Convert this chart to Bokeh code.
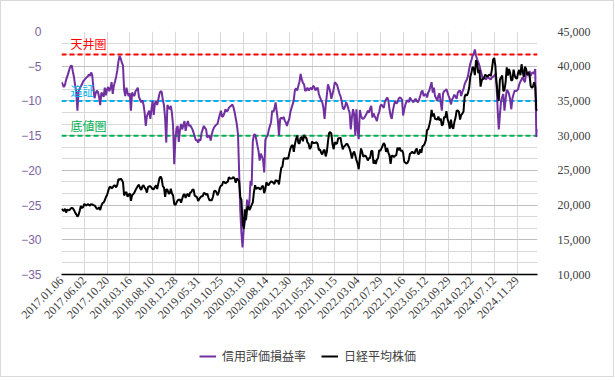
from bokeh.plotting import figure
from bokeh.layouts import column
from bokeh.models import (Range1d, LinearAxis, FixedTicker, NumeralTickFormatter,
                          Span, Label, Legend, LegendItem)
from bokeh.embed import file_html
from bokeh.resources import INLINE

# ---- data -------------------------------------------------------------
tick_labels = ["2017.01.06", "2017.06.02", "2017.10.20", "2018.03.16", "2018.08.10",
               "2018.12.28", "2019.05.31", "2019.10.25", "2020.03.19", "2020.08.14",
               "2020.12.30", "2021.05.28", "2021.10.15", "2022.03.04", "2022.07.29",
               "2022.12.16", "2023.05.12", "2023.09.29", "2024.02.22", "2024.07.12",
               "2024.11.29"]
label_step = 20

margin_ratio = [
    -7.3, -7.6, -8.0, -7.7, -7.0, -6.5, -6.0, -5.4, -5.0, -4.9, -5.8, -6.6, -7.8, -8.8, -11.4, -8.6, -8.2, -7.9, -7.6, -7.2,
    -7.0, -6.8, -6.6, -6.5, -6.2, -6.4, -5.9, -6.3, -8.1, -9.6, -8.9, -8.5, -8.7, -9.4, -10.6, -8.8, -9.0, -9.4, -8.1, -9.2,
    -8.3, -8.0, -8.6, -8.2, -7.3, -9.0, -7.8, -7.2, -6.5, -5.6, -4.3, -3.5, -3.9, -4.5, -4.9, -8.4, -9.3, -8.1, -8.8, -9.3,
    -8.9, -11.4, -8.8, -9.1, -9.3, -8.6, -8.4, -8.1, -9.4, -9.8, -10.2, -9.9, -10.5, -11.7, -13.6, -12.2, -11.8, -11.4, -12.6, -11.2, -10.0,
    -12.0, -10.4, -10.0, -10.6, -9.8, -9.0, -8.6, -8.7, -9.9, -10.6, -12.5, -16.0, -10.6, -10.9, -11.2, -10.7, -11.8, -13.6, -19.1, -15.5,
    -14.0, -13.6, -15.9, -14.2, -13.3, -14.1, -13.5, -12.9, -14.3, -13.4, -12.9, -13.6, -13.5, -13.8, -14.1, -14.6, -15.1, -15.7, -15.6, -16.0,
    -15.5, -15.7, -14.6, -14.1, -13.6, -13.9, -14.1, -15.3, -15.1, -15.0, -15.7, -14.8, -14.2, -13.8, -13.6, -13.4, -13.3, -12.6, -12.0, -11.4,
    -12.3, -12.2, -11.8, -11.2, -11.5, -11.4, -11.0, -10.8, -10.7, -10.5, -10.9, -11.6, -12.5, -13.4, -14.8, -20.3, -25.8, -29.0, -31.1, -28.5,
    -27.5, -26.6, -24.2, -25.4, -24.6, -21.5, -22.2, -15.8, -14.9, -14.8, -15.5, -16.4, -17.2, -18.6, -17.6, -18.0, -18.5, -20.3, -15.6, -15.2, -15.0,
    -14.2, -13.6, -13.1, -11.4, -11.6, -11.1, -10.2, -11.5, -12.8, -15.0, -12.6, -12.4, -12.6, -12.3, -12.8, -13.1, -13.6, -13.0, -12.6, -11.6,
    -11.0, -10.5, -9.8, -8.4, -8.2, -8.5, -7.8, -7.2, -6.1, -6.9, -7.4, -7.6, -8.6, -8.4, -8.1, -8.5, -8.3, -8.1, -8.4, -7.8,
    -8.0, -8.5, -8.2, -8.1, -9.0, -9.5, -9.9, -10.2, -11.0, -12.6, -10.6, -9.2, -7.6, -8.1, -8.7, -9.7, -9.0, -8.3, -7.3, -7.5,
    -7.7, -8.3, -8.9, -9.3, -10.0, -11.0, -11.2, -10.8, -10.2, -10.6, -11.2, -11.7, -14.1, -12.4, -11.2, -11.9, -15.0, -11.2, -14.1, -15.5,
    -11.3, -12.1, -12.5, -12.6, -12.4, -12.1, -11.8, -11.4, -11.7, -11.1, -10.7, -12.4, -11.8, -12.2, -12.5, -12.9, -12.0, -11.6, -10.7, -10.5, -10.8,
    -11.0, -10.1, -9.8, -9.5, -9.9, -11.2, -12.1, -12.6, -11.4, -10.6, -10.0, -10.4, -10.2, -9.7, -9.5, -9.6, -9.8, -12.1, -11.2, -10.5,
    -10.1, -9.9, -10.2, -9.5, -9.8, -10.0, -10.2, -9.9, -9.7, -10.0, -10.2, -9.8, -9.3, -8.7, -8.5, -9.3, -9.1, -9.0, -9.5, -8.8,
    -8.5, -7.9, -7.3, -8.8, -8.1, -9.3, -9.6, -10.0, -9.2, -8.9, -10.2, -11.4, -9.0, -8.6, -8.5, -8.3, -8.8, -9.3, -9.7, -10.5,
    -9.8, -9.5, -9.1, -9.4, -9.7, -8.8, -8.6, -8.5, -9.3, -8.7, -8.3, -7.6, -7.2, -6.9, -6.4, -5.4, -4.6, -4.1, -3.5, -3.2,
    -2.6, -3.5, -4.0, -4.4, -4.9, -5.6, -6.2, -6.9, -6.6, -6.8, -6.9, -6.4, -6.7, -6.8, -6.9, -6.6, -6.5, -6.4, -6.1, -7.6, -11.2,
    -14.1, -12.0, -10.0, -9.4, -9.0, -11.4, -9.8, -8.4, -8.6, -9.0, -9.8, -11.2, -9.6, -9.0, -8.5, -8.6, -8.5, -8.3, -7.6, -7.2,
    -6.9, -6.6, -7.0, -7.3, -5.9, -6.2, -6.4, -5.7, -6.4, -6.0, -5.9, -6.1, -5.4, -15.2, -14.0,
]

nikkei = [
    19454, 19287, 19137, 19467, 18918, 19378, 19235, 19283, 19469, 19604, 19521, 19262, 18909, 18664, 18335, 18620, 19196, 19883, 19590, 19686,
    20177, 20013, 19943, 20132, 20033, 19929, 20118, 20099, 19959, 19952, 19729, 19470, 19452, 19691, 19274, 19909, 20296, 20356, 20690, 21155,
    21457, 22008, 22539, 22681, 22397, 22550, 22819, 22811, 22553, 22902, 23714, 23653, 23808, 23631, 23274, 21382, 21720, 21892, 21181, 21469,
    21676, 20617, 21454, 21568, 21778, 22162, 22467, 22758, 22930, 22450, 22171, 22694, 22851, 22516, 22304, 21788, 22597, 22697, 22712, 22525,
    22298, 22270, 22601, 22865, 22307, 23094, 23870, 24120, 23784, 22694, 22532, 21184, 22243, 22250, 21680, 21646, 22351, 21679, 21374, 20166,
    20015, 20360, 20666, 20774, 20788, 20333, 20901, 21426, 21603, 21026, 21451, 21627, 21206, 21807, 21871, 22200, 22259, 21345, 21250, 21117,
    20601, 20885, 21117, 21259, 21276, 21746, 21686, 21467, 21658, 21088, 20685, 20711, 20704, 21200, 21988, 22079, 21879, 21410, 21799, 22493,
    22800, 22851, 23392, 23304, 23113, 23294, 23354, 24023, 23816, 23838, 23851, 24041, 23827, 23205, 23827, 23688, 23386, 21142, 20749, 17431,
    16552, 19389, 17820, 19498, 19897, 19262, 19619, 20037, 20388, 21877, 22863, 22305, 22478, 22512, 22306, 22290, 22696, 22751, 21710, 22329,
    23289, 22920, 22882, 23205, 23406, 23360, 23204, 23029, 23619, 23410, 23516, 22977, 24325, 25385, 25527, 26644, 26751, 26652, 26763, 26656,
    27444, 28139, 28519, 28631, 27663, 28779, 29520, 30018, 28966, 28864, 29717, 29792, 29176, 30089, 29768, 29683, 29021, 28813, 28084, 28318,
    29149, 28942, 28949, 28964, 29066, 28783, 27940, 28003, 27548, 27284, 27820, 27977, 27013, 27641, 29128, 30382, 30500, 30249, 28771, 28049,
    29068, 28804, 28892, 29611, 29609, 29745, 28751, 28029, 28437, 28545, 28782, 28791, 28478, 28124, 27522, 26717, 27439, 27696, 27122, 26476,
    25985, 25162, 26827, 28149, 27665, 26985, 27093, 27105, 26848, 26427, 26739, 26781, 27761, 27824, 25963, 26491, 25935, 26517, 26788, 27914,
    27801, 28175, 28546, 28930, 28641, 27650, 28214, 27567, 27153, 25937, 27116, 27090, 26890, 27105, 27199, 28263, 27899, 28283, 27777, 27901,
    27527, 26235, 26095, 25974, 26120, 26554, 27383, 27510, 27671, 27513, 27454, 27927, 28144, 27334, 27385, 28041, 27518, 28493, 28564, 28856,
    29388, 30808, 30916, 31524, 32265, 33706, 32781, 33189, 32388, 32391, 32304, 32759, 32193, 32473, 31451, 31624, 32710, 32606, 33533, 32402,
    31858, 30995, 32316, 31260, 30992, 31950, 32569, 33586, 33626, 33432, 32308, 32971, 33170, 33464, 35578, 35963, 35751, 36158, 36897, 38487,
    39098, 39910, 39688, 38707, 40888, 40369, 38992, 39523, 37068, 37934, 38236, 38229, 38787, 38646, 38488, 38684, 38815, 38596, 39583, 40912,
    41190, 40063, 37667, 35909, 35025, 38062, 38364, 38647, 36391, 36581, 37723, 39829, 38635, 39605, 38981, 37913, 38053, 39500, 38642, 38283,
    38208, 39091, 39470, 38702, 40281, 39190, 38451, 39931, 39572, 38787, 39149, 38777, 37156, 36887, 37053, 37677, 37120, 33780, 33586,
]

ratio_ticks = [0, -5, -10, -15, -20, -25, -30, -35]
price_ticks = [10000, 15000, 20000, 25000, 30000, 35000, 40000, 45000]

ceiling_level = -3.3     # 天井圏
margin_call_level = -10  # 追証
floor_level = -15        # 底値圏

series_names = ["信用評価損益率", "日経平均株価"]

# ---- figure -----------------------------------------------------------
n = len(nikkei)
idx = list(range(n))
m = min(len(margin_ratio), n)

FONT_JP = "Noto Sans CJK JP"
PURPLE = "#7030A0"

p = figure(width=612, height=332, output_backend="svg", toolbar_location=None,
           x_range=Range1d(0, n - 1), y_range=Range1d(-35, 0),
           min_border_left=60, min_border_right=76, min_border_top=30, min_border_bottom=59)
p.background_fill_color = "white"
p.border_fill_color = "white"
p.outline_line_color = None

p.extra_y_ranges = {"price": Range1d(10000, 45000)}

# grids
tick_pos = [i * label_step for i in range(len(tick_labels))]
p.xgrid.ticker = FixedTicker(ticks=tick_pos)
p.xgrid.grid_line_color = "#d9d9d9"
p.xgrid.grid_line_width = 1
minor = [-35 + k * 5 / 3 for k in range(22) if k % 3 != 0]
p.ygrid.ticker = FixedTicker(ticks=ratio_ticks, minor_ticks=minor)
p.ygrid.grid_line_color = "#bfbfbf"
p.ygrid.minor_grid_line_color = "#d9d9d9"

# x axis
xa = p.xaxis[0]
xa.ticker = FixedTicker(ticks=tick_pos)
xa.major_label_overrides = {pos: lab for pos, lab in zip(tick_pos, tick_labels)}
xa.major_label_orientation = 0.785398
xa.major_label_text_font = "Liberation Serif"
xa.major_label_text_font_size = "12px"
xa.major_label_text_color = "#404040"
xa.major_tick_line_color = None
xa.minor_tick_line_color = None
xa.major_tick_out = 0
xa.major_tick_in = 0
xa.minor_tick_out = 0
xa.axis_label_standoff = 0
xa.axis_line_color = "black"
xa.axis_line_width = 1.5
xa.major_label_standoff = 4

# left axis
ya = p.yaxis[0]
ya.ticker = FixedTicker(ticks=ratio_ticks)
ya.major_label_text_font = "Liberation Sans"
ya.major_label_text_font_size = "12px"
ya.major_label_text_color = "#8064A2"
ya.major_tick_line_color = None
ya.minor_tick_line_color = None
ya.axis_line_color = None
ya.major_label_standoff = 14

# right axis
ra = LinearAxis(y_range_name="price", ticker=FixedTicker(ticks=price_ticks),
                formatter=NumeralTickFormatter(format="0,0"))
ra.major_label_text_font = "Liberation Serif"
ra.major_label_text_font_size = "12px"
ra.major_label_text_color = "#404040"
ra.major_tick_line_color = None
ra.minor_tick_line_color = None
ra.axis_line_color = None
ra.major_label_standoff = 14
p.add_layout(ra, "right")

# reference lines
for lvl, col in [(ceiling_level, "#FF0000"), (margin_call_level, "#00B0F0"), (floor_level, "#00B050")]:
    p.add_layout(Span(location=lvl, dimension="width", line_color=col,
                      line_width=2, line_dash="5 3", level="underlay"))

# series
r1 = p.line(idx[:m], margin_ratio[:m], line_color=PURPLE, line_width=2)
r2 = p.line(idx, nikkei, y_range_name="price", line_color="black", line_width=2)

# level labels
for lvl, txt, col in [(ceiling_level, "天井圏", "#FF0000"),
                      (margin_call_level, "追証", "#00B0F0"),
                      (floor_level, "底値圏", "#00B050")]:
    p.add_layout(Label(x=8, y=lvl, text=txt, text_color=col, text_font=FONT_JP,
                       text_font_size="12px", text_baseline="bottom", y_offset=2))

# ---- legend strip below the chart ---------------------------------------
# (the key lines reuse the first two data points, which fall outside this
#  strip's ranges, so only the legend swatches are visible)
lg = figure(width=612, height=43, output_backend="svg", toolbar_location=None,
            x_axis_type=None, y_axis_type=None, min_border=0,
            x_range=Range1d(0, 1), y_range=Range1d(100000, 100001))
lg.grid.visible = False
lg.outline_line_color = None
lg.background_fill_color = "white"
lg.border_fill_color = "white"
k1 = lg.line(idx[:2], margin_ratio[:2], line_color=PURPLE, line_width=2)
k2 = lg.line(idx[:2], nikkei[:2], line_color="black", line_width=2)
legend = Legend(items=[LegendItem(label=series_names[0], renderers=[k1]),
                       LegendItem(label=series_names[1], renderers=[k2])],
                orientation="horizontal", location=(138, 12),
                label_text_font=FONT_JP, label_text_font_size="12px",
                label_text_color="#404040", glyph_width=17, glyph_height=12,
                label_standoff=6, spacing=15, border_line_color=None,
                background_fill_alpha=0, margin=0, padding=4)
lg.add_layout(legend, "center")

layout = column(p, lg, spacing=0, styles={"border": "1px solid #d9d9d9"})

open("out.html", "w").write(file_html(layout, INLINE))
